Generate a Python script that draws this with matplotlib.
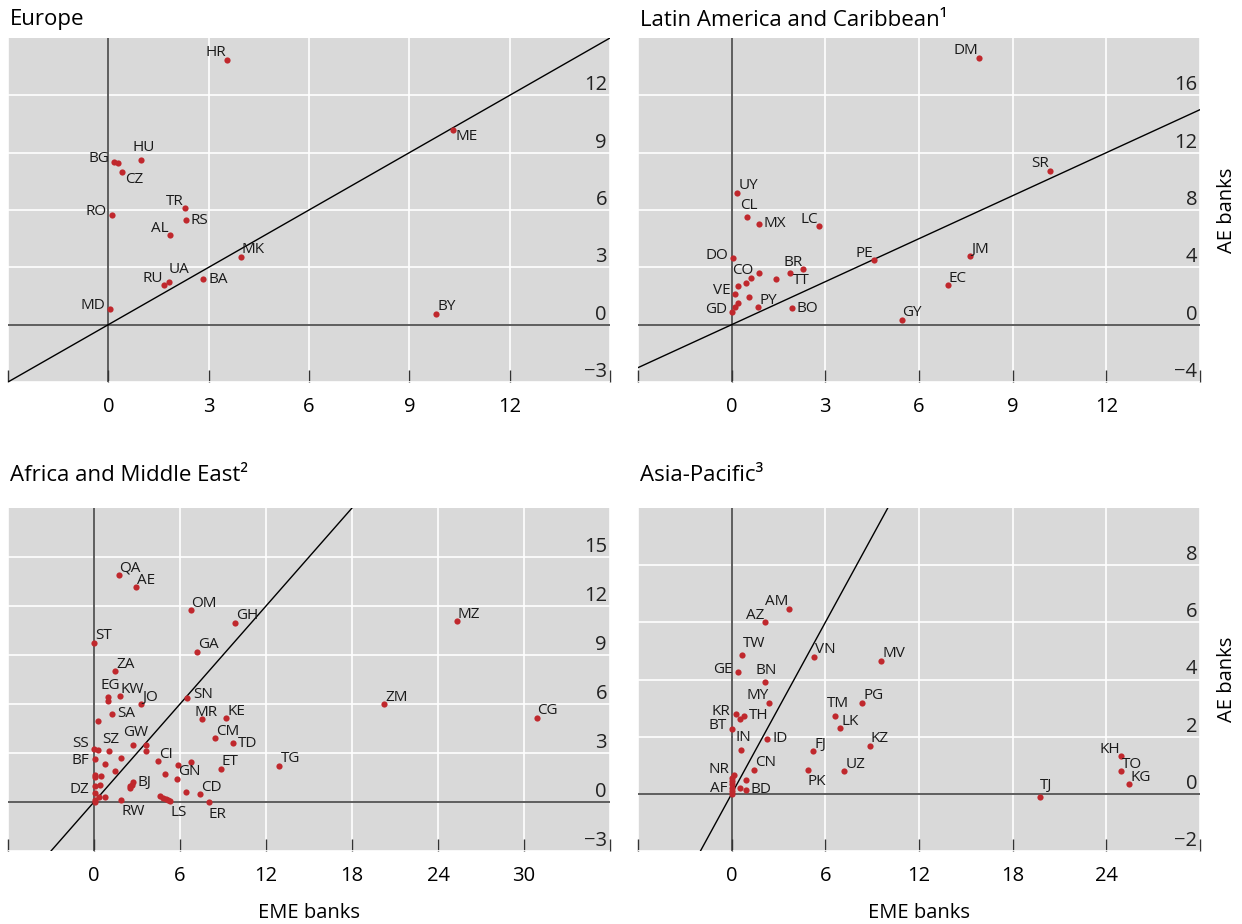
import matplotlib
matplotlib.use('Agg')
import matplotlib.pyplot as plt
import matplotlib.transforms as mtransforms

plt.rcParams['font.family'] = ['Open Sans', 'DejaVu Sans']

# ---- data (x = EME banks, y = AE banks) ----
eu_names = ['HR', 'ME', 'HU', 'BG', '', 'CZ', 'RO', 'TR', 'RS', 'AL', 'MK', 'UA', 'RU', 'BA', 'MD', 'BY']
eu_x = [3.55, 10.30, 0.99, 0.18, 0.30, 0.40, 0.11, 2.28, 2.31, 1.84, 3.96, 1.80, 1.66, 2.84, 0.06, 9.81]
eu_y = [13.87, 10.20, 8.64, 8.52, 8.45, 7.98, 5.76, 6.10, 5.46, 4.68, 3.55, 2.24, 2.05, 2.38, 0.83, 0.58]

la_names = ['DM', 'SR', 'UY', 'CL', 'MX', 'LC', 'DO', 'PE', 'JM', 'BR', 'TT', '', 'CO', '', '', '',
            'VE', '', 'PY', '', '', 'GD', 'BO', 'GY', 'EC']
la_x = [7.93, 10.20, 0.18, 0.50, 0.87, 2.80, 0.05, 4.55, 7.64, 2.30, 1.88, 1.41, 0.87, 0.63, 0.47, 0.21,
        0.12, 0.57, 0.85, 0.20, 0.12, 0.01, 1.92, 5.44, 6.92]
la_y = [18.62, 10.73, 9.20, 7.50, 7.05, 6.86, 4.65, 4.51, 4.76, 3.88, 3.60, 3.20, 3.58, 3.27, 2.91, 2.72,
        2.15, 1.94, 1.20, 1.53, 1.22, 0.85, 1.14, 0.35, 2.74]

af_names = ['QA', 'AE', 'OM', 'GH', 'MZ', 'ST', 'GA', 'ZA', 'EG', '', 'KW', 'JO', 'SN', 'ZM', 'SA', 'MR',
            'KE', 'CG', '', 'CM', 'TD', 'GW', '', '', 'SZ', 'SS', '', 'BF', '', '', '', 'CI', '', '',
            'ET', 'TG', '', 'GN', '', '', '', 'BJ', '', '', '', '', '', 'DZ', '', 'CD', '', '', '', '',
            'RW', '', '', '', '', 'LS', 'ER']
af_x = [1.71, 2.95, 6.74, 9.83, 25.30, 0.00, 7.22, 1.47, 1.01, 1.01, 1.78, 3.30, 6.50, 20.23, 1.28, 7.53,
        9.23, 30.88, 0.28, 8.46, 9.67, 2.75, 3.65, 3.65, 1.05, 0.00, 0.25, 0.05, 1.89, 0.76, 1.45, 4.48,
        5.83, 6.79, 8.85, 12.94, 4.92, 5.78, 0.04, 0.04, 0.51, 2.71, 2.63, 2.54, 2.54, 0.04, 0.45, 0.04,
        6.40, 7.40, 0.76, 0.33, 0.04, 0.04, 1.89, 4.60, 4.79, 4.99, 5.15, 5.31, 7.99]
af_y = [13.87, 13.14, 11.75, 10.98, 11.06, 9.76, 9.20, 8.00, 6.42, 6.18, 6.48, 5.98, 6.37, 5.99, 5.40, 5.06,
        5.13, 5.15, 4.94, 3.91, 3.61, 3.51, 3.46, 3.12, 3.12, 3.23, 3.21, 2.62, 2.72, 2.31, 1.90, 2.50,
        2.29, 2.43, 2.04, 2.22, 1.70, 1.41, 1.63, 1.54, 1.62, 1.20, 1.07, 0.96, 0.85, 1.00, 1.02, 0.57,
        0.63, 0.46, 0.30, 0.31, 0.15, 0.03, 0.14, 0.34, 0.23, 0.18, 0.13, 0.09, 0.00]

ap_names = ['AM', 'AZ', 'TW', 'VN', 'MV', 'GE', 'BN', 'MY', 'PG', 'TM', 'KR', 'TH', '', 'LK', 'BT', 'IN',
            'ID', 'KZ', 'FJ', 'KH', 'CN', 'PK', 'UZ', 'TO', 'KG', 'TJ', 'NR', '', '', '', 'AF', '', '',
            '', 'BD', '']
ap_x = [3.68, 2.16, 0.69, 5.30, 9.57, 0.38, 2.11, 2.42, 8.38, 6.65, 0.25, 0.81, 0.52, 6.95, 0.00, 0.61,
        2.28, 8.83, 5.23, 24.97, 1.41, 4.88, 7.21, 24.92, 25.48, 19.72, 0.15, 0.04, 0.00, 0.00, 0.04, 0.00,
        0.04, 0.95, 0.89, 0.55]
ap_y = [6.47, 6.00, 4.84, 4.79, 4.66, 4.26, 3.90, 3.18, 3.19, 2.74, 2.79, 2.74, 2.63, 2.29, 2.27, 1.54,
        1.93, 1.69, 1.49, 1.31, 0.85, 0.85, 0.79, 0.79, 0.33, -0.12, 0.65, 0.56, 0.44, 0.33, 0.21, 0.09,
        0.01, 0.50, 0.15, 0.19]

# ---- label placement (layout, not data) ----
eu_pos = ['ul', 'lr', 'a', 'l', '', 'lr', 'l', 'ul', 'r', 'ul', 'ur', 'ar', 'ul', 'r', 'l', 'ur']
la_pos = ['ul', 'ul', 'ur', 'a', 'r', 'ul', 'l', 'ul', 'ur', 'ul', 'lr', '', 'l', '', '', '',
          'l', '', 'ur', '', '', 'l', 'r', 'ur', 'ur']
af_pos = ['ur', 'ur', 'ur', 'ur', 'ur', 'ur', 'ur', 'ur', 'a', '', 'ur', 'ur', 'ru', 'ur', 'r', 'as',
          'ur', 'ur', '', 'ur', 'r', 'a', '', '', 'a', 'lu', '', 'ld', '', '', '', 'ur', '', '',
          'ur', 'ur', '', 'ur', '', '', '', 'r', '', '', '', '', '', 'l', '', 'ur', '', '', '', '',
          'br', '', '', '', '', 'br', 'br']
ap_pos = ['ul', 'ul', 'ar', 'ur', 'ur', 'l', 'a', 'ul', 'ur', 'a', 'l', 'r', '', 'ur', 'l', 'a',
          'r', 'ur', 'ur', 'ul', 'ur', 'br', 'ur', 'ur', 'ur', 'ar', 'lu', '', '', '', 'ld', '', '',
          '', 'r', '']

OFFSETS = {
    'ul': ('right', -1, 7), 'ur': ('left', 1, 7),
    'l': ('right', -5, 3), 'lu': ('right', -5, 6), 'ld': ('right', -5, -1),
    'r': ('left', 5, 0), 'ru': ('left', 6, 3),
    'lr': ('left', 3, -7), 'a': ('center', 2, 12), 'as': ('center', 4, 7),
    'ar': ('left', 0, 12), 'br': ('left', 0, -12),
}

RED = '#c0282d'
BG = '#d9d9d9'
W, H = 1242, 924

fig = plt.figure(figsize=(W / 100, H / 100), dpi=100)


def panel(rect_px, title, names, xs, ys, pos, xlim, ylim, xticks, yticks, xlabel=False, ylabel=False):
    x0, y0, x1, y1 = rect_px
    ax = fig.add_axes([x0 / W, 1 - y1 / H, (x1 - x0) / W, (y1 - y0) / H])
    ax.set_facecolor(BG)
    for s in ax.spines.values():
        s.set_visible(False)
    ax.set_xlim(*xlim)
    ax.set_ylim(*ylim)
    ax.set_xticks(xticks)
    ax.set_xticklabels(['' if t in xlim else str(t) for t in xticks], fontsize=14.5)
    ax.tick_params(axis='x', direction='in', length=9, width=1, color='#333333', pad=10.5)
    ax.set_yticks(yticks)
    ax.set_yticklabels([])
    ax.tick_params(axis='y', length=0)
    ax.grid(True, color='white', linewidth=1.2)
    ax.set_axisbelow(True)
    ax.axhline(0, color='#333333', lw=1.1, zorder=2)
    ax.axvline(0, color='#333333', lw=1.1, zorder=2)
    ax.axline((0, 0), slope=1, color='black', lw=1, zorder=3)

    trans = mtransforms.blended_transform_factory(ax.transAxes, ax.transData)
    for t in yticks:
        lab = str(t).replace('-', '\u2212')
        ax.text(0.995, t, lab, transform=trans, ha='right', va='bottom', fontsize=14.5, color='#222222')

    ax.scatter(xs, ys, s=20, color=RED, linewidths=0, zorder=4)
    for n, x, y, p in zip(names, xs, ys, pos):
        if not n:
            continue
        ha, dx, dy = OFFSETS[p]
        ax.annotate(n, (x, y), xytext=(dx, dy), textcoords='offset pixels',
                    ha=ha, va='center', fontsize=11, color='#1a1a1a', zorder=5)

    fig.text((x0 + 2) / W, 1 - (y0 - (18 if y0 < 100 else 33)) / H, title,
             ha='left', va='center', fontsize=16, color='black')
    if xlabel:
        ax.text(0.5, -0.18, 'EME banks', transform=ax.transAxes, ha='center', va='center', fontsize=14.5)
    if ylabel:
        ax.text(1.048, 0.5, 'AE banks', transform=ax.transAxes, rotation=90,
                ha='center', va='center', fontsize=14.5)
    return ax


panel((8, 38, 610, 382), 'Europe', eu_names, eu_x, eu_y, eu_pos,
      (-3, 15), (-3, 15), [-3, 0, 3, 6, 9, 12, 15], [-3, 0, 3, 6, 9, 12])
panel((638, 38, 1200, 382), 'Latin America and Caribbean\u00b9', la_names, la_x, la_y, la_pos,
      (-3, 15), (-4, 20), [-3, 0, 3, 6, 9, 12, 15], [-4, 0, 4, 8, 12, 16], ylabel=True)
panel((8, 508, 610, 851), 'Africa and Middle East\u00b2', af_names, af_x, af_y, af_pos,
      (-6, 36), (-3, 18), [-6, 0, 6, 12, 18, 24, 30, 36], [-3, 0, 3, 6, 9, 12, 15], xlabel=True)
panel((638, 508, 1200, 851), 'Asia-Pacific\u00b3', ap_names, ap_x, ap_y, ap_pos,
      (-6, 30), (-2, 10), [-6, 0, 6, 12, 18, 24, 30], [-2, 0, 2, 4, 6, 8], xlabel=True, ylabel=True)

fig.savefig('out.png', dpi=100)
